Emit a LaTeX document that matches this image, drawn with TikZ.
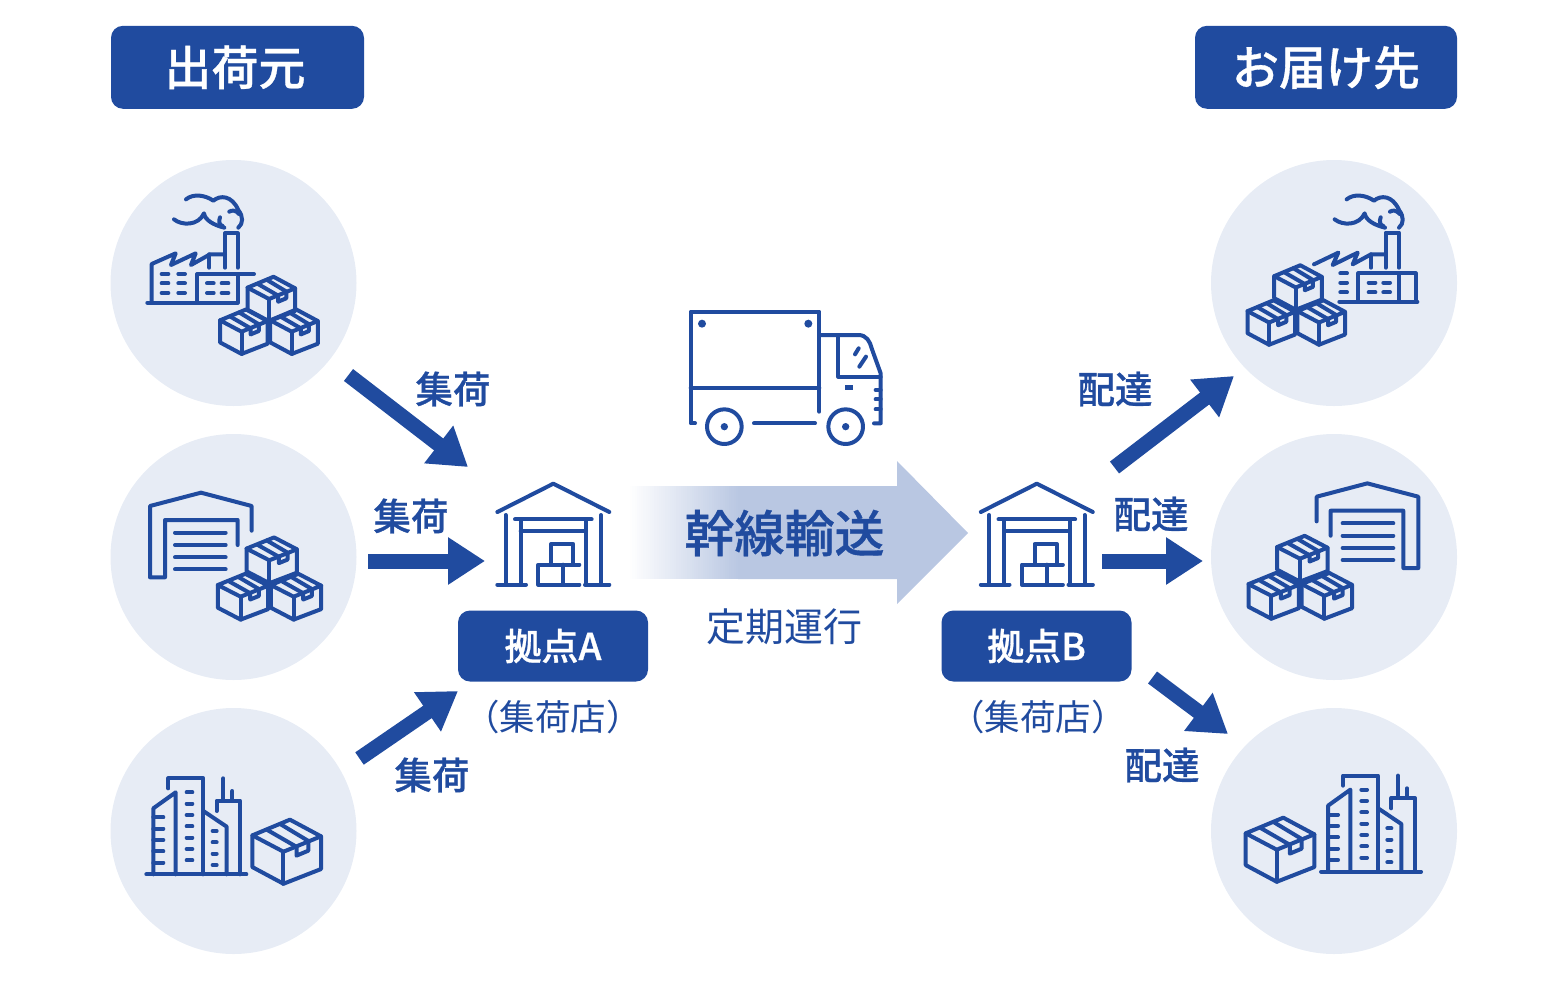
\documentclass[tikz,border=0pt]{standalone}
\usepackage{fontspec}
\setmainfont[BoldFont={Noto Sans CJK JP Medium}, BoldFeatures={FakeBold=0.7}]{Noto Sans CJK JP}
\usetikzlibrary{arrows.meta}
\definecolor{navy}{HTML}{204B9F}
\definecolor{paleblue}{HTML}{E7ECF5}
\definecolor{trunkblue}{HTML}{B9C7E2}
\newcommand{\fsize}[1]{\fontsize{#1}{#1}\selectfont}
\tikzset{
  icon/.style={draw=navy, line width=4pt, line cap=round, line join=round},
  place/.style={circle, fill=paleblue, minimum size=246, inner sep=0},
  headbox/.style={fill=navy, rounded corners=12pt, text=white, font=\bfseries\fsize{47}, minimum height=83, inner sep=0},
  basebox/.style={fill=navy, rounded corners=12pt, text=white, font=\bfseries\fsize{37}, minimum width=190, minimum height=71, inner sep=0},
  worklabel/.style={text=navy, font=\bfseries\fsize{37.5}, inner sep=0},
  plainlabel/.style={text=navy, font=\fsize{35.5}, inner sep=0},
  flow/.style={draw=navy, line width=15pt, -{Triangle[length=37pt, width=45pt]}},
  boxpic/.pic={
    \draw[icon] (3.3,-32.7) -- (-35,-16.7) -- (-3.3,0) -- (35,-15.7) -- cycle;
    \draw[icon] (-35,-16.7) -- (-35,15.7) -- (-3.3,32.7) -- (35,17.7) -- (35,-15.7);
    \draw[icon] (-3.3,0) -- (-3.3,32.7);
    \draw[icon] (-20,-22.3) -- (10,-5) -- (10,4) -- (22,-1) -- (22,-11) -- (-6.7,-28.3);
  },
  smokepic/.pic={
    \draw[icon] (228,118) .. controls (250,100) and (285,105) .. (310,122) .. controls (330,105) and (365,105) .. (385,150) .. controls (400,170) and (400,190) .. (385,203);
    \draw[icon] (358,155) .. controls (365,150) and (378,150) .. (387,162);
    \draw[icon] (192,178) .. controls (215,197) and (265,198) .. (282,160) .. controls (285,180) and (310,195) .. (343,203);
    \draw[icon] (330,172) .. controls (325,185) and (328,195) .. (338,198);
  },
  sheddpic/.pic={
    \draw[icon] (425,287) -- (425,213) -- (273,173) -- (120,213) -- (120,427) -- (165,427) -- (165,255) -- (383,255) -- (383,330);
    \foreach \ly in {293,330,367,403}
      \draw[icon] (195,\ly) -- (347,\ly);
  },
  citypic/.pic={
    \draw[icon] (109,493) -- (409,493);
    \draw[icon] (130,493) -- (130,295) -- (197,247) -- (197,493);
    \draw[icon] (175,235) -- (175,205) -- (280,205) -- (280,493);
    \draw[icon] (280,303) -- (350,350) -- (350,493);
    \draw[icon] (320,303) -- (320,272) -- (390,272) -- (390,493);
    \draw[icon] (340,205) -- (340,272);
    \draw[icon] (367,243) -- (367,272);
    \foreach \ly in {322,356,390,424,458}
      \draw[icon] (130,\ly) -- (160,\ly);
    \foreach \ly in {247,281,315,349,383,417,451}
      \draw[icon] (230,\ly) -- (247,\ly);
    \foreach \ly in {363,397,431,465}
      \draw[icon] (308,\ly) -- (320,\ly);
  },
  depotpic/.pic={
    \draw[icon] (142,126) -- (310,41) -- (478,126);
    \draw[icon] (167,135) -- (167,344);
    \draw[icon] (453,135) -- (453,344);
    \draw[icon] (142,344) -- (228,344);
    \draw[icon] (405,344) -- (478,344);
    \draw[icon] (195,148) -- (425,148);
    \draw[icon] (212,148) -- (212,344);
    \draw[icon] (408,148) -- (408,344);
    \draw[icon] (212,184) -- (408,184);
    \draw[icon] (303,278) -- (303,222) -- (370,222) -- (370,284);
    \draw[icon] (388,284) -- (265,284) -- (265,344) -- (388,344);
    \draw[icon] (340,284) -- (340,344);
  },
}
\begin{document}
\begin{tikzpicture}[x=1pt, y=-1pt]
\useasboundingbox (0,0) rectangle (1568,980);
% Headers
\node[headbox, minimum width=253] (srchead) at (237.5,67.3) {\raisebox{-2pt}{出荷元}\kern5pt};
\node[headbox, minimum width=262] (dsthead) at (1326,67.3) {\raisebox{-2pt}{お届け先}};
% Circles
\foreach \pname/\px/\py in {srcA/233.5/283, srcB/233.5/557, srcC/233.5/831, dstA/1334/283, dstB/1334/557, dstC/1334/831}
  \node[place] (\pname) at (\px,\py) {};
% Factory, left
\pic[scale=1/3] at (110,160) {smokepic};
\begin{scope}[shift={(110,160)}, scale=1/3]
\draw[icon] (125,428) -- (125,312) -- (197,280) -- (183,315) -- (257,280) -- (243,315) -- (300,283) -- (345,283);
\draw[icon] (298,283) -- (298,323);
\draw[icon] (345,323) -- (345,220) -- (383,220) -- (383,323);
\draw[icon] (262,428) -- (262,342) -- (432,342);
\draw[icon] (383,342) -- (383,428);
\draw[icon] (112,428) -- (383,428);
\foreach \ly in {342,370,399}
  \foreach \lx in {155,205}
    \draw[icon] (\lx,\ly) -- ++(20,0);
\foreach \ly in {370,399}
  \foreach \lx in {291,335}
    \draw[icon] (\lx,\ly) -- ++(20,0);
\end{scope}
\foreach \bx/\by in {271.3/299, 243.8/331.7, 294/331.7}
  \pic[scale=.68] at (\bx,\by) {boxpic};
% Factory, right
\pic[scale=1/3] at (1210+182/3,160) {smokepic};
\begin{scope}[shift={(1210,160)}, scale=1/3]
\draw[icon] (312,313) -- (385,278) -- (368,315) -- (443,278) -- (428,313) -- (483,283) -- (527,283);
\draw[icon] (483,283) -- (483,323);
\draw[icon] (527,323) -- (527,218) -- (567,218) -- (567,323);
\draw[icon] (445,425) -- (445,340) -- (617,340) -- (617,425);
\draw[icon] (567,340) -- (567,425);
\draw[icon] (388,425) -- (622,425);
\foreach \ly in {340,368,397}
  \draw[icon] (391,\ly) -- ++(20,0);
\foreach \ly in {368,397}
  \foreach \lx in {476,520}
    \draw[icon] (\lx,\ly) -- ++(20,0);
\end{scope}
\foreach \bx/\by in {1298/287.5, 1271.3/322.5, 1321.2/322.5}
  \pic[scale=.68] at (\bx,\by) {boxpic};
% Warehouses
\pic[scale=1/3] at (110,435) {sheddpic};
\pic[xscale=-1/3, yscale=1/3] at (1458.3,425.7) {sheddpic};
\foreach \bx/\by in {271.7/560.3, 243/596.7, 296/596.7, 1302.3/558.7, 1273.7/595.8, 1326.8/595.8}
  \pic[xscale=.72, yscale=.7] at (\bx,\by) {boxpic};
% Buildings
\pic[scale=1/3] at (110,710) {citypic};
\pic[scale=1/3] at (1284.7,707.3) {citypic};
\pic[scale=.98] at (286.7,851.7) {boxpic};
\pic[scale=.98] at (1280,849.7) {boxpic};
% Trunk arrow
\foreach \gs [evaluate=\gs as \gp using \gs*2] in {0,...,50}
  \fill[trunkblue!\gp!white] (628+\gs*2.2,486) rectangle (740,579);
\fill[trunkblue] (738,486) -- (897,486) -- (897,461) -- (968,533) -- (897,604) -- (897,579) -- (738,579) -- cycle;
\node[text=navy, font=\bfseries\fsize{50}, inner sep=0] (trunk) at (784.5,533) {幹線輸送};
\node[text=navy, font=\fsize{39}, inner sep=0] (regular) at (784,627) {定期運行};
% Truck
\begin{scope}[shift={(670,295)}, scale=1/3]
\draw[icon] (75,385) -- (62,385) -- (62,50) -- (448,50) -- (448,350);
\draw[icon] (62,278) -- (448,278);
\fill[navy] (96,86) circle (12) (415,86) circle (12);
\draw[icon] (448,120) -- (565,120) .. controls (590,120) and (600,140) .. (605,160) -- (632,235) -- (632,385) -- (612,385);
\draw[icon] (505,120) -- (505,245) -- (632,245);
\draw[icon] (555,178) -- (566,160);
\draw[icon] (568,215) -- (588,185);
\fill[navy] (526,270) rectangle (548,286);
\foreach \ly in {285,313,343}
  \draw[icon] (617,\ly) -- (632,\ly);
\foreach \wx in {163,527} {
  \draw[icon] (\wx,395) circle (52);
  \fill[navy] (\wx,395) circle (11);
}
\draw[icon] (252,385) -- (435,385);
\end{scope}
% Depots
\pic[scale=1/3] at (450,470) {depotpic};
\pic[scale=1/3] at (933.5,470) {depotpic};
\node[basebox] (baseA) at (553,646) {\raisebox{-3pt}{拠点A}};
\node[basebox] (baseB) at (1036.5,646) {\raisebox{-3pt}{拠点B}};
\node[plainlabel] (shopA) at (553,717) {（集荷店）};
\node[plainlabel] (shopB) at (1038,717) {（集荷店）};
% Arrows
\coordinate (inAs) at (348.5,375);
\coordinate (inAe) at (468,467);
\coordinate (inBs) at (368,561);
\coordinate (inBe) at (485,561);
\coordinate (inCs) at (359.5,758.5);
\coordinate (inCe) at (458,691);
\coordinate (outAs) at (1114.5,467.5);
\coordinate (outAe) at (1234,376);
\coordinate (outBs) at (1102,561);
\coordinate (outBe) at (1203,561);
\coordinate (outCs) at (1152.5,677.5);
\coordinate (outCe) at (1228,734);
\foreach \fs/\fe in {inAs/inAe, inBs/inBe, inCs/inCe, outAs/outAe, outBs/outBe, outCs/outCe}
  \draw[flow] (\fs) -- (\fe);
% Labels
\node[worklabel] (pickA) at (453,389) {集荷};
\node[worklabel] (pickB) at (411,516) {集荷};
\node[worklabel] (pickC) at (432,775) {集荷};
\node[worklabel] (dropA) at (1115,389) {配達};
\node[worklabel] (dropB) at (1151,514) {配達};
\node[worklabel] (dropC) at (1162,765) {配達};
\end{tikzpicture}
\end{document}
